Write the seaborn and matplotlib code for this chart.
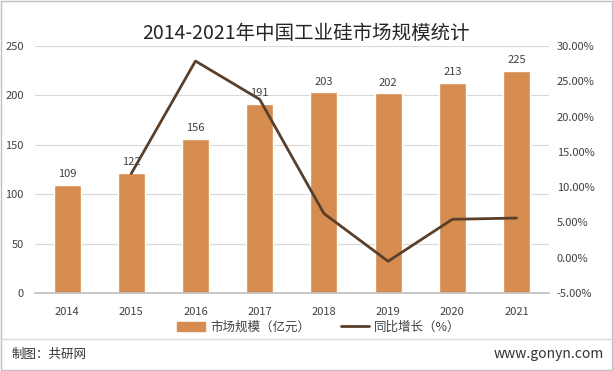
import numpy as np
import pandas as pd
import seaborn as sns
import matplotlib.pyplot as plt
from matplotlib.lines import Line2D
from matplotlib.patches import Patch

years = ["2014", "2015", "2016", "2017", "2018", "2019", "2020", "2021"]
market_size = [109, 122, 156, 191, 203, 202, 213, 225]
growth = [None, 11.93, 27.87, 22.44, 6.28, -0.49, 5.45, 5.63]

sns.set_theme(style="white")
plt.rcParams['font.family'] = ['Noto Sans CJK SC', 'DejaVu Sans']

bar_color = "#D58C4E"
line_color = "#5A3F2B"
text_color = "#404040"

df = pd.DataFrame({"year": years, "size": market_size, "growth": growth})

fig = plt.figure(figsize=(6.13, 3.71), dpi=100)
ax = fig.add_axes([0.057, 0.210, 0.838, 0.666])

sns.barplot(data=df, x="year", y="size", color=bar_color, width=0.42,
            saturation=1, ax=ax)
ax.set_ylim(0, 250)
ax.set_yticks(range(0, 251, 50))
ax.yaxis.grid(True, color="#D9D9D9", linewidth=0.8)
ax.set_axisbelow(True)
for s in ["top", "right", "left"]:
    ax.spines[s].set_visible(False)
ax.spines["bottom"].set_color("#BFBFBF")
ax.set_xlabel("")
ax.set_ylabel("")
ax.tick_params(axis="x", labelsize=8, colors=text_color, length=0, pad=10)
ax.tick_params(axis="y", labelsize=8, colors=text_color, length=0, pad=8)
for i, v in enumerate(market_size):
    ax.text(i, v + 6, str(v), ha="center", va="bottom", fontsize=8, color=text_color)

ax2 = ax.twinx()
sns.lineplot(data=df, x="year", y="growth", color=line_color, linewidth=2, ax=ax2)
ax2.set_ylim(-5, 30)
ax2.set_yticks(range(-5, 31, 5))
ax2.set_yticklabels([f"{t:.2f}%" for t in range(-5, 31, 5)])
for s in ax2.spines.values():
    s.set_visible(False)
ax2.set_xlabel("")
ax2.set_ylabel("")
ax2.tick_params(axis="y", labelsize=8, colors=text_color, length=0, pad=6)
ax.set_xlim(-0.5, len(years) - 0.5)

fig.text(0.5, 0.91, "2014-2021年中国工业硅市场规模统计", ha="center", va="center",
         fontsize=14, color="#262626")

handles = [Patch(color=bar_color, label="市场规模（亿元）"),
           Line2D([0], [0], color=line_color, linewidth=2, label="同比增长（%）")]
fig.legend(handles=handles, loc="center", bbox_to_anchor=(0.52, 0.118), ncol=2,
           frameon=False, fontsize=9, handlelength=2.2, handletextpad=0.4,
           columnspacing=2.5, labelcolor=text_color)

fig.add_artist(Line2D([0.0, 1.0], [0.087, 0.087], color="#D9D9D9", linewidth=1,
                      transform=fig.transFigure))
fig.text(0.018, 0.045, "制图：共研网", ha="left", va="center", fontsize=9, color="#333333")
fig.text(0.985, 0.045, "www.gonyn.com", ha="right", va="center", fontsize=10, color="#333333")
fig.add_artist(plt.Rectangle((0.001, 0.002), 0.997, 0.995, fill=False,
                             edgecolor="#BFBFBF", linewidth=1, transform=fig.transFigure))

fig.savefig("out.png", dpi=100)
